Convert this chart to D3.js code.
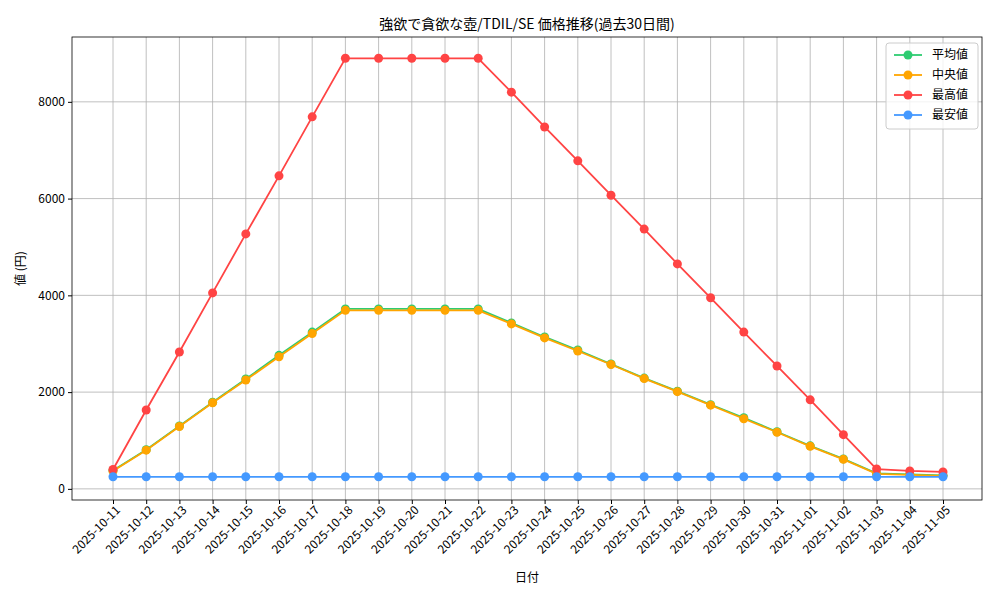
<!DOCTYPE html>
<html>
<head>
<meta charset="UTF-8">
<title>価格推移</title>
<script src="https://d3js.org/d3.v7.min.js"></script>
<style>
 body { margin: 0; background: #fff; }
 text { font-family: "Noto Sans CJK JP", "DejaVu Sans Mono", monospace; }
</style>
</head>
<body>
<script>
var dates = ["2025-10-11","2025-10-12","2025-10-13","2025-10-14","2025-10-15","2025-10-16","2025-10-17","2025-10-18","2025-10-19","2025-10-20","2025-10-21","2025-10-22","2025-10-23","2025-10-24","2025-10-25","2025-10-26","2025-10-27","2025-10-28","2025-10-29","2025-10-30","2025-10-31","2025-11-01","2025-11-02","2025-11-03","2025-11-04","2025-11-05"];
var avgVals = [380,810,1300,1790,2270,2760,3240,3720,3720,3720,3720,3720,3430,3140,2870,2580,2290,2020,1740,1470,1180,890,620,320,300,280];
var medVals = [370,800,1290,1780,2250,2730,3210,3690,3690,3690,3690,3690,3410,3120,2850,2570,2280,2010,1730,1450,1170,880,610,310,290,270];
var maxVals = [400,1630,2830,4050,5270,6470,7690,8900,8900,8900,8900,8900,8200,7480,6780,6070,5370,4650,3950,3240,2540,1840,1120,410,370,350];
var minVals = [250,250,250,250,250,250,250,250,250,250,250,250,250,250,250,250,250,250,250,250,250,250,250,250,250,250];
var yTicks = [0,2000,4000,6000,8000];
var seriesNames = ["平均値","中央値","最高値","最安値"];
var seriesColors = ["#2ecc71","#ffa500","#ff4444","#4499ff"];
var seriesData = [avgVals, medVals, maxVals, minVals];

var W = 1000, H = 600, L = 72, R = 982, T = 37, B = 500;
var svg = d3.select("body").append("svg").attr("width", W).attr("height", H);

var x = d3.scalePoint().domain(dates).range([113, 943]);
var y = d3.scaleLinear().domain([-230, 9340]).range([B, T]);

// grid
svg.append("g").selectAll("line").data(dates).join("line")
  .attr("x1", d => x(d)).attr("x2", d => x(d)).attr("y1", T).attr("y2", B)
  .attr("stroke", "#b0b0b0").attr("stroke-width", 0.8);
svg.append("g").selectAll("line").data(yTicks).join("line")
  .attr("x1", L).attr("x2", R).attr("y1", d => y(d)).attr("y2", d => y(d))
  .attr("stroke", "#b0b0b0").attr("stroke-width", 0.8);

// axes
var xa = svg.append("g").attr("transform", "translate(0," + B + ")")
  .call(d3.axisBottom(x).tickSize(4).tickSizeOuter(0));
xa.select(".domain").remove();
xa.selectAll("text").attr("font-size", 12).attr("fill", "#000")
  .attr("text-anchor", "end").attr("dx", "-0.2em").attr("dy", "0.5em")
  .attr("transform", "rotate(-45)");
var ya = svg.append("g").attr("transform", "translate(" + L + ",0)")
  .call(d3.axisLeft(y).tickValues(yTicks).tickFormat(d3.format("d")).tickSize(4));
ya.select(".domain").remove();
ya.selectAll("text").attr("font-size", 12).attr("fill", "#000");

svg.append("rect").attr("x", L).attr("y", T).attr("width", R - L).attr("height", B - T)
  .attr("fill", "none").attr("stroke", "#000").attr("stroke-width", 0.8);

// series
var line = d3.line().x((d, i) => x(dates[i])).y(d => y(d));
seriesData.forEach(function (vals, k) {
  var g = svg.append("g");
  g.append("path").attr("d", line(vals)).attr("fill", "none")
    .attr("stroke", seriesColors[k]).attr("stroke-width", 1.8);
  g.selectAll("circle").data(vals).join("circle")
    .attr("cx", (d, i) => x(dates[i])).attr("cy", d => y(d)).attr("r", 4.5)
    .attr("fill", seriesColors[k]);
});

// titles
svg.append("text").attr("x", (L + R) / 2).attr("y", 29).attr("text-anchor", "middle")
  .attr("font-size", 14).text("強欲で貪欲な壺/TDIL/SE 価格推移(過去30日間)");
svg.append("text").attr("x", (L + R) / 2).attr("y", 582).attr("text-anchor", "middle")
  .attr("font-size", 12).text("日付");
svg.append("text").attr("transform", "translate(25," + (T + B) / 2 + ") rotate(-90)")
  .attr("text-anchor", "middle").attr("font-size", 12).text("値 (円)");

// legend
var lg = svg.append("g").attr("transform", "translate(886,43)");
lg.append("rect").attr("width", 92).attr("height", 86).attr("rx", 3)
  .attr("fill", "#fff").attr("fill-opacity", 0.8).attr("stroke", "#ccc");
seriesNames.forEach(function (n, k) {
  var yy = 12 + k * 20;
  lg.append("line").attr("x1", 8).attr("x2", 36).attr("y1", yy).attr("y2", yy)
    .attr("stroke", seriesColors[k]).attr("stroke-width", 1.8);
  lg.append("circle").attr("cx", 22).attr("cy", yy).attr("r", 4.5).attr("fill", seriesColors[k]);
  lg.append("text").attr("x", 46).attr("y", yy + 4).attr("font-size", 12).text(n);
});
</script>
</body>
</html>
